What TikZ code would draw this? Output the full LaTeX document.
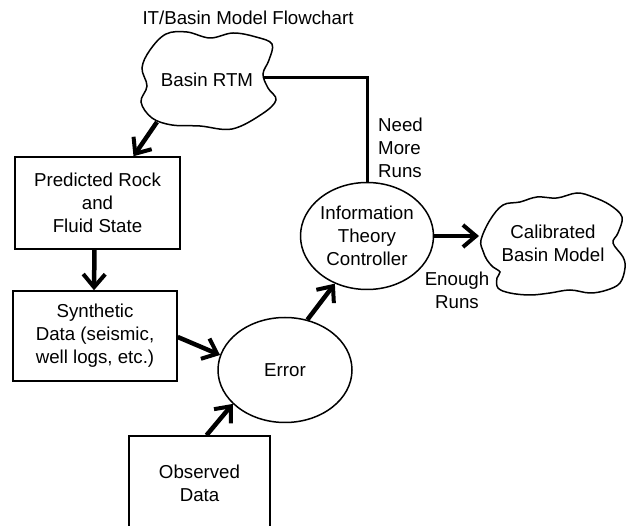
\documentclass[tikz,border=0pt]{standalone}
\usepackage{fontspec}
\setmainfont{Liberation Sans}
\usetikzlibrary{arrows.meta,shapes.geometric,calc}
\begin{document}
\begin{tikzpicture}[x=1pt,y=-1pt,
  font=\fontsize{18.7}{23}\selectfont,
  box/.style={draw, line width=1.5pt, inner sep=0pt, align=center},
  ell/.style={ellipse, draw, line width=1.5pt, inner sep=0pt, align=center},
  cloudlbl/.style={ellipse, inner sep=0pt, align=center},
  cloudline/.style={line width=1.5pt},
  flow/.style={line width=4.5pt, -{Straight Barb[length=13pt,width=22pt,line width=4pt]}},
  plainline/.style={line width=3pt},
  lbl/.style={inner sep=0pt, align=center}]
\useasboundingbox (0,0) rectangle (627,526);

\node[lbl] (title) at (248,18) {IT/Basin Model Flowchart};

% Basin RTM cloud
\draw[cloudline] plot[smooth cycle, tension=0.6] coordinates {
  (142,68) (150,50) (166,34) (187,32) (210,38) (233,33) (256,37) (272,44)
  (269,60) (263,74) (268,88) (276,100) (262,114) (232,129) (200,126)
  (172,125) (152,118) (141,102) (147,86)};
\node[cloudlbl, minimum width=136pt, minimum height=96pt] (rtm) at (207,80) {Basin RTM};

% Calibrated Basin Model cloud
\draw[cloudline] plot[smooth cycle, tension=0.6] coordinates {
  (481,240) (490,220) (503,205) (520,202) (537,197) (557,198) (577,193)
  (593,197) (610,205) (622,217) (618,233) (613,243) (623,257) (625,268)
  (620,283) (607,290) (590,293) (570,290) (550,293) (530,295) (510,293)
  (498,288) (497,278) (500,272) (493,267) (487,260) (483,251)};
\node[cloudlbl, minimum width=142pt, minimum height=96pt] (cal) at (553,243) {Calibrated\\Basin Model};

\node[box, minimum width=165pt, minimum height=92pt] (pred) at (97.5,203) {Predicted Rock\\and\\Fluid State};
\node[box, minimum width=164pt, minimum height=90pt] (synth) at (95,336) {Synthetic\\Data (seismic,\\well logs, etc.)};
\node[box, minimum width=141pt, minimum height=94pt] (obs) at (199.5,483) {Observed\\Data};

\node[ell, minimum width=134pt, minimum height=105pt] (err) at (285,370) {Error};
\node[ell, minimum width=133pt, minimum height=107pt] (itc) at (367,236) {Information\\Theory\\Controller};

\node[lbl, anchor=west, align=left] (need) at (378,148) {Need\\More\\Runs};
\node[lbl] (enough) at (457,290) {Enough\\Runs};

% connectors
\draw[flow] ($(rtm.center)+(-50,42)$) -- ($(pred.north)+(36,0)$);
\draw[flow] ($(pred.south)+(-3,0)$) -- ($(synth.north)+(-1,0)$);
\draw[flow] ($(synth.east)+(0,1)$) -- (err.167);
\draw[flow] ($(obs.north)+(7,0)$) -- (err.213);
\draw[flow] (err.66) -- (itc.236);
\draw[flow] (itc.east) -- ($(itc.east -| cal.west)+(-1,0)$);
\draw[plainline] ($(rtm.center)+(56,-2)$) -| (itc.north);
\end{tikzpicture}
\end{document}
